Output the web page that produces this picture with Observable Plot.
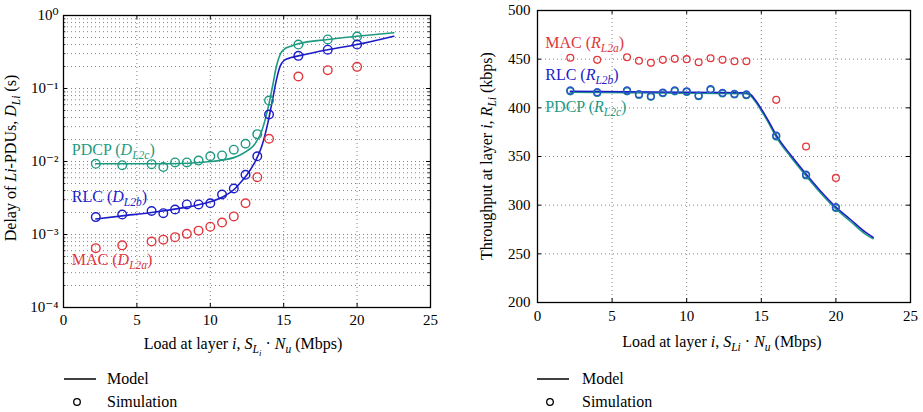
<!DOCTYPE html>
<html>
<head>
<meta charset="utf-8">
<script src="https://cdn.jsdelivr.net/npm/d3@7"></script>
<script src="https://cdn.jsdelivr.net/npm/@observablehq/plot@0.6"></script>
<style>
  html, body { margin: 0; padding: 0; background: #fff; }
  #wrap { position: relative; width: 923px; height: 412px; overflow: hidden; font-family: "Liberation Serif", "Times New Roman", "DejaVu Serif", serif; }
  #left, #right, #overlay { position: absolute; top: 0; }
  #left { left: 0; }
  #right { left: 460px; }
  #overlay { left: 0; pointer-events: none; }
</style>
</head>
<body>
<div id="wrap">
  <div id="left"></div>
  <div id="right"></div>
  <svg id="overlay" width="923" height="412"></svg>
</div>
<script>
// ---------- data ----------
const simLoad = [2.2, 4, 6, 6.8, 7.6, 8.4, 9.2, 10, 10.8, 11.6, 12.4, 13.2, 14, 16, 18, 20];

// Delay (s), simulation
const delayMacSim  = [0.00065, 0.00071, 0.0008, 0.00085, 0.00092, 0.00102, 0.00113, 0.00128, 0.00146, 0.00177, 0.00268, 0.0061, 0.0205, 0.146, 0.178, 0.198];
const delayRlcSim  = [0.00173, 0.00188, 0.0021, 0.00196, 0.0022, 0.00258, 0.00258, 0.00268, 0.00353, 0.00427, 0.00658, 0.0118, 0.044, 0.28, 0.34, 0.40];
const delayPdcpSim = [0.0093, 0.0089, 0.0092, 0.0084, 0.0097, 0.0097, 0.0103, 0.0118, 0.0121, 0.0145, 0.0175, 0.0237, 0.0685, 0.40, 0.47, 0.515];

// Delay (s), model
const delayModelLoad = [2.2, 4, 6, 8, 9, 10, 11, 11.6, 12, 12.5, 13, 13.5, 14, 14.25, 14.5, 14.75, 15, 15.5, 16, 18, 20, 22.5];
const delayRlcModel  = [0.00163, 0.0018, 0.002, 0.0023, 0.0025, 0.0028, 0.0034, 0.0041, 0.005, 0.0066, 0.0095, 0.016, 0.040, 0.072, 0.13, 0.20, 0.24, 0.265, 0.28, 0.34, 0.40, 0.52];
const delayPdcpModel = [0.0093, 0.0093, 0.0093, 0.0094, 0.0096, 0.0100, 0.0106, 0.0113, 0.0122, 0.0140, 0.0170, 0.026, 0.062, 0.11, 0.20, 0.29, 0.34, 0.38, 0.41, 0.47, 0.52, 0.58];

// Throughput (kbps), simulation
const thrMacSim  = [451.4, 449.3, 452, 448.3, 446.2, 449.3, 450.3, 450, 446.9, 451, 449.3, 447.9, 447.9, 408.2, 360.2, 328];
const thrRlcSim  = [417.8, 416, 417.8, 414, 412, 415.7, 417.8, 417, 412.6, 419.1, 415.4, 414.4, 413.7, 371.5, 331.4, 297.9];
const thrPdcpSim = [417, 415.3, 417, 413.3, 411.3, 415, 417, 416.3, 412, 418.4, 414.8, 413.8, 413, 370.5, 330.5, 297];

// Throughput (kbps), model
const thrModelLoad = [2.2, 6, 10, 14, 14.3, 14.6, 15, 15.5, 16, 17, 18, 19, 20, 21, 22, 22.5];
const thrRlcModel  = [417, 416.5, 416, 415.5, 413.5, 408, 399, 386, 372, 351, 332, 314, 298, 285, 272, 267];
const thrPdcpModel = [416, 415.5, 415, 414.5, 412, 406.5, 397, 384, 370, 349, 330, 312, 296, 283, 270, 265.5];

const xTicks = [0, 5, 10, 15, 20, 25];
const delayTicks = [1e-4, 1e-3, 1e-2, 1e-1, 1];
const thrTicks = [200, 250, 300, 350, 400, 450, 500];

// ---------- helpers ----------
const RED = "#e0383e", BLUE = "#1c1cc8", GREEN = "#1f9a82";
const FONT = '"Liberation Serif", "Times New Roman", "DejaVu Serif", serif';
const rows = (xs, ys) => xs.map((x, i) => ({x, y: ys[i]}));
const supMap = {"0":"⁰","1":"¹","2":"²","3":"³","4":"⁴","5":"⁵","-":"⁻"};
const pow10 = d => "10" + String(Math.round(Math.log10(d))).split("").map(c => supMap[c]).join("");

// minor grid values for log axis
const minorLog = [];
for (const dec of [1e-4, 1e-3, 1e-2, 1e-1]) for (let k = 2; k <= 9; k++) minorLog.push(dec * k);
const gridLog = delayTicks.slice(1, -1).concat(minorLog);
const gridX = [5, 10, 15, 20];
const gridThr = [250, 300, 350, 400, 450];

const dotted = {stroke: "#777", strokeWidth: 0.9, strokeDasharray: "1,3"};

function richText(sel, parts) {
  // parts: [text, kind] where kind: n normal, i italic, s sub-italic, ss sub-sub italic
  let cur = 0;
  for (const [t, kind] of parts) {
    const off = kind === "s" ? 4 : kind === "ss" ? 7 : 0;
    const ts = sel.append("tspan").text(t).attr("dy", off - cur);
    cur = off;
    if (kind !== "n") ts.attr("font-style", "italic");
    if (kind === "s") ts.attr("font-size", "0.72em");
    if (kind === "ss") ts.attr("font-size", "0.55em");
  }
}

// ---------- left chart ----------
const tick4 = 0.27; // ~4px in x units
const leftPlot = Plot.plot({
  width: 460, height: 330,
  marginLeft: 63, marginRight: 30, marginTop: 15, marginBottom: 23,
  style: {fontFamily: FONT, fontSize: "15px", background: "transparent", overflow: "visible"},
  x: {domain: [0, 25]},
  y: {type: "log", domain: [1e-4, 1]},
  marks: [
    Plot.ruleY(gridLog, {...dotted}),
    Plot.ruleX(gridX, {...dotted}),
    Plot.ruleY(delayTicks.slice(1, -1), {x1: 0, x2: tick4, stroke: "black"}),
    Plot.ruleY(delayTicks.slice(1, -1), {x1: 25 - tick4, x2: 25, stroke: "black"}),
    Plot.ruleY(minorLog, {x1: 0, x2: tick4 * 0.6, stroke: "black", strokeWidth: 0.8}),
    Plot.ruleY(minorLog, {x1: 25 - tick4 * 0.6, x2: 25, stroke: "black", strokeWidth: 0.8}),
    Plot.ruleX(gridX, {y1: 1e-4, y2: 1e-4 * 1.14, stroke: "black"}),
    Plot.ruleX(gridX, {y1: 1 / 1.14, y2: 1, stroke: "black"}),
    Plot.line(rows(delayModelLoad, delayPdcpModel), {x: "x", y: "y", stroke: GREEN, strokeWidth: 1.6, curve: "monotone-x"}),
    Plot.line(rows(delayModelLoad, delayRlcModel), {x: "x", y: "y", stroke: BLUE, strokeWidth: 1.6, curve: "monotone-x"}),
    Plot.dot(rows(simLoad, delayPdcpSim), {x: "x", y: "y", r: 4.3, stroke: GREEN, fill: "none", strokeWidth: 1.4}),
    Plot.dot(rows(simLoad, delayRlcSim), {x: "x", y: "y", r: 4.3, stroke: BLUE, fill: "none", strokeWidth: 1.4}),
    Plot.dot(rows(simLoad, delayMacSim), {x: "x", y: "y", r: 4.3, stroke: RED, fill: "none", strokeWidth: 1.4}),
    Plot.axisX({ticks: xTicks, tickSize: 0, tickPadding: 7, label: null, tickFormat: d3.format("d")}),
    Plot.axisY({ticks: delayTicks, tickSize: 0, tickPadding: 5, label: null, tickFormat: pow10}),
    Plot.frame({stroke: "black", strokeWidth: 1.3})
  ]
});
document.getElementById("left").appendChild(leftPlot);

// ---------- right chart ----------
const tickT = 0.27;
const rightPlot = Plot.plot({
  width: 463, height: 330,
  marginLeft: 77, marginRight: 13, marginTop: 10, marginBottom: 28,
  style: {fontFamily: FONT, fontSize: "15px", background: "transparent", overflow: "visible"},
  x: {domain: [0, 25]},
  y: {domain: [200, 500]},
  marks: [
    Plot.ruleY(gridThr, {...dotted}),
    Plot.ruleX(gridX, {...dotted}),
    Plot.ruleY(gridThr, {x1: 0, x2: tickT, stroke: "black"}),
    Plot.ruleY(gridThr, {x1: 25 - tickT, x2: 25, stroke: "black"}),
    Plot.ruleX(gridX, {y1: 200, y2: 204, stroke: "black"}),
    Plot.ruleX(gridX, {y1: 496, y2: 500, stroke: "black"}),
    Plot.line(rows(thrModelLoad, thrPdcpModel), {x: "x", y: "y", stroke: GREEN, strokeWidth: 1.5, curve: "monotone-x"}),
    Plot.line(rows(thrModelLoad, thrRlcModel), {x: "x", y: "y", stroke: BLUE, strokeWidth: 1.5, curve: "monotone-x"}),
    Plot.dot(rows(simLoad, thrPdcpSim), {x: "x", y: "y", r: 3.4, stroke: GREEN, fill: "none", strokeWidth: 1.4}),
    Plot.dot(rows(simLoad, thrRlcSim), {x: "x", y: "y", r: 3.4, stroke: "#2a50d0", fill: "none", strokeWidth: 1.5}),
    Plot.dot(rows(simLoad, thrMacSim), {x: "x", y: "y", r: 3.4, stroke: RED, fill: "none", strokeWidth: 1.3}),
    Plot.axisX({ticks: xTicks, tickSize: 0, tickPadding: 8, label: null, tickFormat: d3.format("d")}),
    Plot.axisY({ticks: thrTicks, tickSize: 0, tickPadding: 7, label: null}),
    Plot.frame({stroke: "black", strokeWidth: 1.3})
  ]
});
document.getElementById("right").appendChild(rightPlot);

// ---------- series labels inside plots (positioned via the plots' scales) ----------
function seriesLabel(plot, x, y, color, parts) {
  const sx = plot.scale("x"), sy = plot.scale("y");
  const t = d3.select(plot).append("text")
    .attr("x", sx.apply(x)).attr("y", sy.apply(y) + 5)
    .attr("text-anchor", "start")
    .attr("fill", color).attr("font-size", 16).attr("font-family", FONT);
  richText(t, parts);
}
seriesLabel(leftPlot, 0.6, 0.0142, GREEN, [["PDCP (", "n"], ["D", "i"], ["L2c", "s"], [")", "n"]]);
seriesLabel(leftPlot, 0.6, 0.0032, BLUE, [["RLC (", "n"], ["D", "i"], ["L2b", "s"], [")", "n"]]);
seriesLabel(leftPlot, 0.6, 0.00044, RED, [["MAC (", "n"], ["D", "i"], ["L2a", "s"], [")", "n"]]);
seriesLabel(rightPlot, 0.55, 466, RED, [["MAC (", "n"], ["R", "i"], ["L2a", "s"], [")", "n"]]);
seriesLabel(rightPlot, 0.55, 433, BLUE, [["RLC (", "n"], ["R", "i"], ["L2b", "s"], [")", "n"]]);
seriesLabel(rightPlot, 0.55, 400, GREEN, [["PDCP (", "n"], ["R", "i"], ["L2c", "s"], [")", "n"]]);

// ---------- axis titles and legends ----------
const ov = d3.select("#overlay").attr("font-family", FONT);

function title(x, y, rot, parts) {
  const t = ov.append("text").attr("text-anchor", "middle").attr("font-size", 16)
    .attr("transform", `translate(${x},${y}) rotate(${rot})`);
  richText(t, parts);
}
title(243, 349, 0, [["Load at layer ", "n"], ["i", "i"], [", ", "n"], ["S", "i"], ["L", "s"], ["i", "ss"], [" · ", "n"], ["N", "i"], ["u", "s"], [" (Mbps)", "n"]]);
title(722, 347, 0, [["Load at layer ", "n"], ["i", "i"], [", ", "n"], ["S", "i"], ["Li", "s"], [" · ", "n"], ["N", "i"], ["u", "s"], [" (Mbps)", "n"]]);
title(16, 158, -90, [["Delay of ", "n"], ["Li", "i"], ["-PDUs, ", "n"], ["D", "i"], ["Li", "s"], [" (s)", "n"]]);
title(492, 156, -90, [["Throughput at layer ", "n"], ["i", "i"], [", ", "n"], ["R", "i"], ["Li", "s"], [" (kbps)", "n"]]);

function legend(lx, tx) {
  ov.append("line").attr("x1", lx).attr("x2", lx + 32).attr("y1", 379).attr("y2", 379)
    .attr("stroke", "black").attr("stroke-width", 1.5);
  ov.append("text").attr("x", tx).attr("y", 384).attr("font-size", 16).text("Model");
  ov.append("circle").attr("cx", lx + 13).attr("cy", 402).attr("r", 3.3)
    .attr("fill", "none").attr("stroke", "black").attr("stroke-width", 1.3);
  ov.append("text").attr("x", tx).attr("y", 407).attr("font-size", 16).text("Simulation");
}
legend(64, 107);
legend(537, 582);
</script>
</body>
</html>
